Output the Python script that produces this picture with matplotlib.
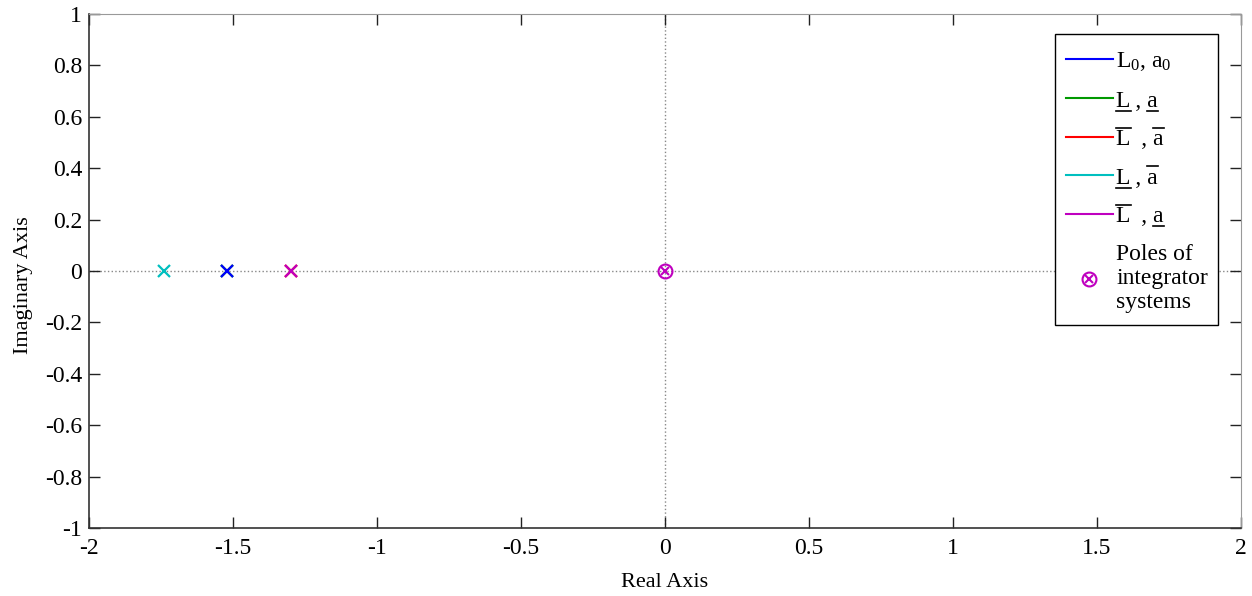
import numpy as np
import matplotlib.pyplot as plt
from matplotlib.legend_handler import HandlerTuple
from matplotlib.lines import Line2D
from matplotlib.patches import Rectangle
from matplotlib.transforms import IdentityTransform

plt.rcParams['font.family'] = ['Liberation Serif', 'DejaVu Serif']
plt.rcParams['mathtext.fontset'] = 'custom'
plt.rcParams['mathtext.rm'] = 'Liberation Serif'
plt.rcParams['mathtext.it'] = 'Liberation Serif'

# poles of each system (real, imag)
pole_re = [-1.52, -1.52, -1.30, -1.74, -1.30]
pole_im = [0, 0, 0, 0, 0]
series_colors = ['#0000ff', '#009900', '#ff0000', '#00bfbf', '#bf00bf']
series_labels = [r'L$_0$, a$_0$', 'L , a', 'L  , a', 'L , a', 'L  , a']
# bars on the labels: (character index, 'u' underline / 'o' overline)
label_bars = [[], [(0, 'u'), (4, 'u')], [(0, 'o'), (5, 'o')],
              [(0, 'u'), (4, 'o')], [(0, 'o'), (5, 'u')]]
integ_re = [0]
integ_im = [0]

xticks = [-2, -1.5, -1, -0.5, 0, 0.5, 1, 1.5, 2]
yticks = [-1, -0.8, -0.6, -0.4, -0.2, 0, 0.2, 0.4, 0.6, 0.8, 1]

fig = plt.figure(figsize=(12.52, 5.96), dpi=100)
ax = fig.add_subplot(111)
fig.subplots_adjust(left=89/1252, right=1241/1252, top=1-14/596, bottom=1-528/596)

ax.axhline(0, color='#888888', ls=':', lw=1, zorder=0)
ax.axvline(0, color='#888888', ls=':', lw=1, zorder=0)

# draw order so blue / magenta end up on top like the original
for i in [1, 2, 0, 3, 4]:
    ax.plot(pole_re[i], pole_im[i], 'x', color=series_colors[i], ms=8, mew=1.6)

handles = []
for i in range(len(pole_re)):
    h, = ax.plot([], [], '-', color=series_colors[i], lw=1.5)
    handles.append(h)

c1, = ax.plot(integ_re, integ_im, 'o', mfc='none', mec='#bf00bf', ms=10, mew=1.5)
c2, = ax.plot(integ_re, integ_im, 'x', color='#bf00bf', ms=6, mew=1.5)
handles.append((c1, c2))
labels = series_labels + ['Poles of\nintegrator\nsystems']

ax.set_xlim(-2, 2)
ax.set_ylim(-1, 1)
ax.set_xticks(xticks)
ax.set_xticklabels([('%g' % v) for v in xticks])
ax.set_yticks(yticks)
ax.set_yticklabels([('%g' % v) for v in yticks])
ax.tick_params(direction='in', length=8, width=1, top=True, right=True, labelsize=17, colors='#222222')
ax.tick_params(axis='x', pad=7)
ax.tick_params(axis='y', pad=5)
ax.tick_params(labelcolor='black')
for s in ['top', 'right']:
    ax.spines[s].set_color('#999999')
for s in ['left', 'bottom']:
    ax.spines[s].set_color('#333333')
    ax.spines[s].set_linewidth(1.2)
ax.set_xlabel('Real Axis', fontsize=16, labelpad=10)
ax.set_ylabel('Imaginary Axis', fontsize=16)
ax.yaxis.set_label_coords(-0.0486, 0.473)

leg = ax.legend(handles, labels, loc='upper right', bbox_to_anchor=(0.9714, 0.93),
                fontsize=17, frameon=False, borderpad=0, borderaxespad=0,
                handlelength=2.0, labelspacing=0.72, handletextpad=0.15,
                handler_map={tuple: HandlerTuple(ndivide=1)})

fig.canvas.draw()
rend = fig.canvas.get_renderer()

# legend box
lb = leg.get_window_extent(rend)
box = Rectangle((lb.x0 - 11, lb.y0 - 12), lb.width + 21, lb.height + 28,
                transform=IdentityTransform(), facecolor='white', edgecolor='black',
                lw=1, zorder=4.5, clip_on=False)
ax.add_patch(box)

# under/over bars for the legend labels
for t, bars in zip(leg.get_texts(), label_bars):
    s = t.get_text()
    prop = t.get_fontproperties()
    bb = t.get_window_extent(rend)
    fs = prop.get_size_in_points() * fig.dpi / 72.0
    _, _, d = rend.get_text_width_height_descent(s, prop, ismath=False)
    base = bb.y0 + d
    for k, kind in bars:
        w_end, _, _ = rend.get_text_width_height_descent(s[:k+1], prop, ismath=False)
        w_ch, _, _ = rend.get_text_width_height_descent(s[k], prop, ismath=False)
        x1 = bb.x0 + w_end
        x0 = x1 - w_ch
        y = base - 0.13 * fs if kind == 'u' else base + 0.78 * fs
        ln = Line2D([x0, x1], [y, y], color='black', lw=1.2, transform=IdentityTransform())
        fig.add_artist(ln)

plt.savefig('out.png', dpi=100)
